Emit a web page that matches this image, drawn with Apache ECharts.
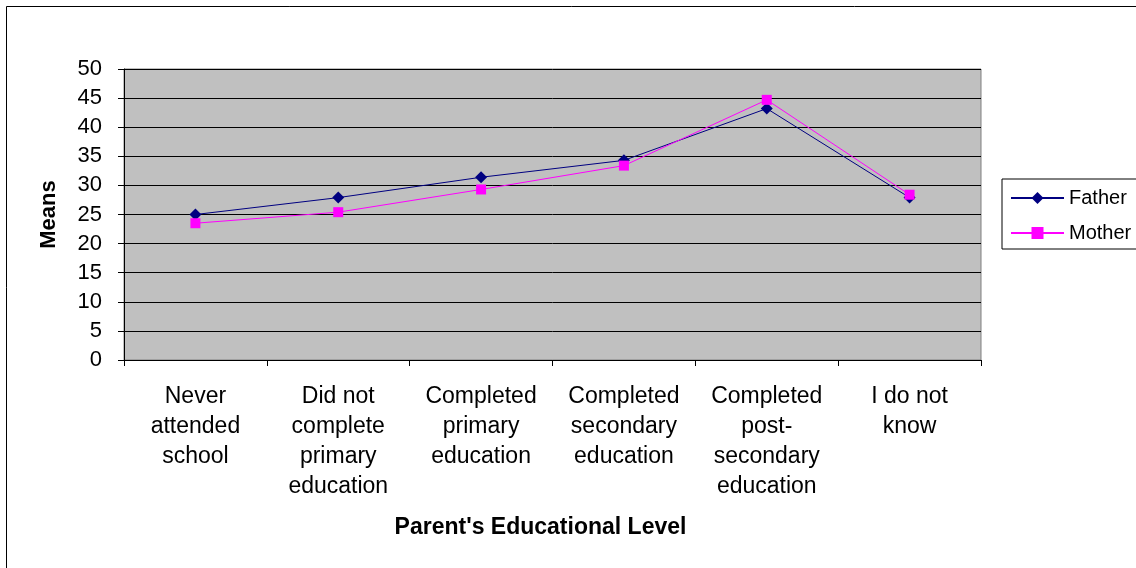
<!DOCTYPE html>
<html><head><meta charset="utf-8">
<script src="https://cdn.jsdelivr.net/npm/echarts@6/dist/echarts.min.js"></script>
<style>html,body{margin:0;padding:0;background:#fff}#c{width:1136px;height:568px}</style>
</head><body><div id="c"></div>
<script>
const categories = ["Never\nattended\nschool", "Did not\ncomplete\nprimary\neducation", "Completed\nprimary\neducation", "Completed\nsecondary\neducation", "Completed\npost-\nsecondary\neducation", "I do not\nknow"];
const father = [25.0, 27.9, 31.4, 34.3, 43.2, 27.9];
const mother = [23.5, 25.4, 29.3, 33.4, 44.7, 28.4];
const yTicks = {min: 0, max: 50, interval: 5};

const chart = echarts.init(document.getElementById('c'), null, {renderer: 'canvas'});
const font = 'Liberation Sans, Arial, sans-serif';
chart.setOption({
  animation: false,
  backgroundColor: '#fff',
  textStyle: {fontFamily: font},
  graphic: [{type: 'rect', shape: {x: 6.5, y: 6.5, width: 1140, height: 580}, style: {fill: 'none', stroke: '#000', lineWidth: 1}, z: -10}],
  grid: {left: 124, top: 69, right: 155, bottom: 208, show: true, backgroundColor: '#C0C0C0', borderColor: '#808080', borderWidth: 1},
  legend: {
    left: 1002, top: 179, orient: 'vertical', itemWidth: 53, itemHeight: 15, itemGap: 15,
    padding: [9, 6, 6, 8], borderColor: '#000', borderWidth: 1, backgroundColor: '#fff',
    textStyle: {fontFamily: font, fontSize: 20, lineHeight: 20, color: '#000'},
    data: ['Father', 'Mother']
  },
  xAxis: {
    type: 'category', data: categories, boundaryGap: true,
    name: "Parent's Educational Level", nameLocation: 'middle', nameGap: 156,
    nameTextStyle: {fontFamily: font, fontSize: 23, fontWeight: 'bold', color: '#000', padding: [0, 24, 0, 0]},
    axisLine: {lineStyle: {color: '#000', width: 1}},
    axisTick: {show: true, interval: 0, length: 6, inside: false, lineStyle: {color: '#000'}},
    axisLabel: {interval: 0, margin: 22, fontSize: 23, lineHeight: 30, color: '#000', fontFamily: font, align: 'center'},
    splitLine: {show: false}
  },
  yAxis: {
    type: 'value', min: yTicks.min, max: yTicks.max, interval: yTicks.interval,
    name: 'Means', nameLocation: 'middle', nameGap: 64, nameRotate: 90,
    nameTextStyle: {fontFamily: font, fontSize: 22, fontWeight: 'bold', color: '#000'},
    axisLine: {show: true, lineStyle: {color: '#000', width: 1}},
    axisTick: {show: true, length: 6, inside: false, lineStyle: {color: '#000'}},
    axisLabel: {fontSize: 22, color: '#000', margin: 22, fontFamily: font},
    splitLine: {show: true, lineStyle: {color: '#000', width: 1}}
  },
  series: [
    {name: 'Father', type: 'line', data: father, symbol: 'diamond', symbolSize: 12,
      itemStyle: {color: '#000080'}, lineStyle: {color: '#000080', width: 1}, z: 3},
    {name: 'Mother', type: 'line', data: mother, symbol: 'rect', symbolSize: 10,
      itemStyle: {color: '#FF00FF'}, lineStyle: {color: '#FF00FF', width: 1}, z: 4}
  ]
});
</script></body></html>
